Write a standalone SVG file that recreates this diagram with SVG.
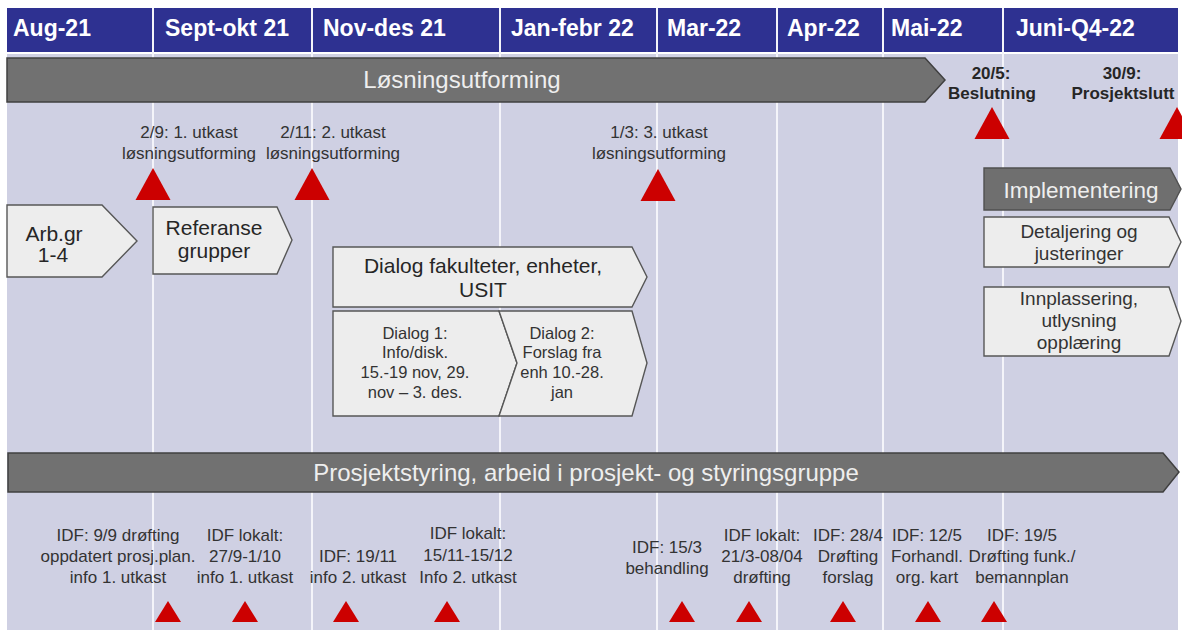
<svg xmlns="http://www.w3.org/2000/svg" width="1182" height="634" viewBox="0 0 1182 634">
<style>
text{font-family:"Liberation Sans",Arial,sans-serif;}
.hd{font-size:23px;font-weight:bold;fill:#ffffff;}
.bar{fill:#717171;stroke:#404040;stroke-width:1.5;}
.bart{font-size:24px;fill:#eeeeee;text-anchor:middle;}
.box{fill:#ededed;stroke:#575757;stroke-width:1.4;}
.bt{font-size:21px;fill:#262626;text-anchor:middle;}
.st{font-size:17px;fill:#333333;text-anchor:middle;}
.bd{font-size:17px;font-weight:bold;fill:#262626;text-anchor:middle;}
.dt{font-size:16.5px;fill:#333333;text-anchor:middle;}
.it{font-size:19px;fill:#333333;text-anchor:middle;}
.tri{fill:#cc0000;}
.sep{stroke:#f4f4fa;stroke-width:2;}
</style>
<defs>
<path id="bigTri" d="M-17.5,32 L0,0 L17.5,32 Z"/>
<path id="smTri" d="M-13,21 L0,0 L13,21 Z"/>
</defs>
<rect x="0" y="0" width="1182" height="634" fill="#ffffff"/>
<rect x="7" y="54" width="1171" height="576" fill="#cfd0e3"/>
<g id="header">
<rect x="7" y="8" width="1171" height="44" fill="#2e3191"/>
<text class="hd" x="13" y="36">Aug-21</text>
<text class="hd" x="165" y="36">Sept-okt 21</text>
<text class="hd" x="323" y="36">Nov-des 21</text>
<text class="hd" x="511" y="36">Jan-febr 22</text>
<text class="hd" x="667" y="36">Mar-22</text>
<text class="hd" x="787" y="36">Apr-22</text>
<text class="hd" x="891" y="36">Mai-22</text>
<text class="hd" x="1016" y="36">Juni-Q4-22</text>
</g>
<g id="separators">
<line class="sep" x1="153" y1="8" x2="153" y2="630"/>
<line class="sep" x1="312" y1="8" x2="312" y2="630"/>
<line class="sep" x1="500" y1="8" x2="500" y2="630"/>
<line class="sep" x1="657" y1="8" x2="657" y2="630"/>
<line class="sep" x1="777" y1="8" x2="777" y2="630"/>
<line class="sep" x1="883" y1="8" x2="883" y2="630"/>
<line class="sep" x1="1003" y1="8" x2="1003" y2="630"/>
</g>
<g id="connectors"></g>
<g id="losningsutforming">
<path class="bar" d="M7,58 H925 L945,80 L925,102 H7 Z"/>
<text class="bart" x="462" y="88">Løsningsutforming</text>
</g>
<g id="ms-2-9">
<text class="st" x="189" y="138">2/9: 1. utkast</text>
<text class="st" x="189" y="159">løsningsutforming</text>
<use href="#bigTri" x="153" y="168" class="tri"/>
</g>
<g id="ms-2-11">
<text class="st" x="333" y="138">2/11: 2. utkast</text>
<text class="st" x="333" y="159">løsningsutforming</text>
<use href="#bigTri" x="312" y="168" class="tri"/>
</g>
<g id="ms-1-3">
<text class="st" x="659" y="138">1/3: 3. utkast</text>
<text class="st" x="659" y="159">løsningsutforming</text>
<use href="#bigTri" x="658" y="169" class="tri"/>
</g>
<g id="ms-20-5">
<text class="bd" x="991" y="79">20/5:</text>
<text class="bd" x="992" y="99">Beslutning</text>
<use href="#bigTri" x="992" y="107" class="tri"/>
</g>
<g id="ms-30-9">
<text class="bd" x="1122" y="79">30/9:</text>
<text class="bd" x="1123" y="99">Prosjektslutt</text>
<use href="#bigTri" x="1177" y="107" class="tri"/>
</g>
<g id="arbgr">
<path class="box" d="M7,205 H102 L137,241 L102,277 H7 Z"/>
<text class="bt" x="54" y="241">Arb.gr</text>
<text class="bt" x="53" y="262">1-4</text>
</g>
<g id="referanse">
<path class="box" d="M153,207 H277 L292,240 L277,274 H153 Z"/>
<text class="bt" x="214" y="235">Referanse</text>
<text class="bt" x="214" y="258">grupper</text>
</g>
<g id="dialog">
<path class="box" d="M333,247 H632 L647,277 L632,307 H333 Z"/>
<text class="bt" x="483" y="273">Dialog fakulteter, enheter,</text>
<text class="bt" x="483" y="297">USIT</text>
</g>
<g id="dialog1">
<path class="box" d="M333,311 H499 L517,363 L499,416 H333 Z"/>
<text class="dt" x="415" y="339">Dialog 1:</text>
<text class="dt" x="415" y="358">Info/disk.</text>
<text class="dt" x="415" y="378">15.-19 nov, 29.</text>
<text class="dt" x="415" y="398">nov – 3. des.</text>
</g>
<g id="dialog2">
<path class="box" d="M499,311 H632 L647,363 L632,416 H499 L517,363 Z"/>
<text class="dt" x="562" y="339">Dialog 2:</text>
<text class="dt" x="562" y="358">Forslag fra</text>
<text class="dt" x="562" y="378">enh 10.-28.</text>
<text class="dt" x="562" y="398">jan</text>
</g>
<g id="implementering">
<path d="M984,168 H1170 L1181,189 L1170,210 H984 Z" fill="#6f6f6f" stroke="#505050" stroke-width="1.4"/>
<text x="1081" y="198" font-size="22.5" fill="#eeeeee" text-anchor="middle">Implementering</text>
</g>
<g id="detaljering">
<path class="box" d="M984,217 H1169 L1181,242 L1169,267 H984 Z"/>
<text class="it" x="1079" y="238">Detaljering og</text>
<text class="it" x="1079" y="260">justeringer</text>
</g>
<g id="innplassering">
<path class="box" d="M984,287 H1169 L1181,321 L1169,356 H984 Z"/>
<text class="it" x="1079" y="305">Innplassering,</text>
<text class="it" x="1079" y="327">utlysning</text>
<text class="it" x="1079" y="349">opplæring</text>
</g>
<g id="prosjektstyring">
<path class="bar" d="M8,453 H1163 L1179,472 L1163,492 H8 Z"/>
<text class="bart" x="586" y="481">Prosjektstyring, arbeid i prosjekt- og styringsgruppe</text>
</g>
<g id="idf-9-9">
<text class="st" x="118" y="541">IDF: 9/9 drøfting</text>
<text class="st" x="118" y="562">oppdatert prosj.plan.</text>
<text class="st" x="118" y="583">info 1. utkast</text>
<use href="#smTri" x="168" y="601" class="tri"/>
</g>
<g id="idf-lokalt-1">
<text class="st" x="245" y="541">IDF lokalt:</text>
<text class="st" x="245" y="562">27/9-1/10</text>
<text class="st" x="245" y="583">info 1. utkast</text>
<use href="#smTri" x="245" y="601" class="tri"/>
</g>
<g id="idf-19-11">
<text class="st" x="358" y="562">IDF: 19/11</text>
<text class="st" x="358" y="583">info 2. utkast</text>
<use href="#smTri" x="346" y="601" class="tri"/>
</g>
<g id="idf-lokalt-2">
<text class="st" x="468" y="539">IDF lokalt:</text>
<text class="st" x="468" y="561">15/11-15/12</text>
<text class="st" x="468" y="583">Info 2. utkast</text>
<use href="#smTri" x="447" y="601" class="tri"/>
</g>
<g id="idf-15-3">
<text class="st" x="667" y="553">IDF: 15/3</text>
<text class="st" x="667" y="574">behandling</text>
<use href="#smTri" x="682" y="601" class="tri"/>
</g>
<g id="idf-lokalt-3">
<text class="st" x="762" y="541">IDF lokalt:</text>
<text class="st" x="762" y="562">21/3-08/04</text>
<text class="st" x="762" y="583">drøfting</text>
<use href="#smTri" x="749" y="601" class="tri"/>
</g>
<g id="idf-28-4">
<text class="st" x="848" y="541">IDF: 28/4</text>
<text class="st" x="848" y="562">Drøfting</text>
<text class="st" x="848" y="583">forslag</text>
<use href="#smTri" x="843" y="601" class="tri"/>
</g>
<g id="idf-12-5">
<text class="st" x="927" y="541">IDF: 12/5</text>
<text class="st" x="927" y="562">Forhandl.</text>
<text class="st" x="927" y="583">org. kart</text>
<use href="#smTri" x="928" y="601" class="tri"/>
</g>
<g id="idf-19-5">
<text class="st" x="1022" y="541">IDF: 19/5</text>
<text class="st" x="1022" y="562">Drøfting funk./</text>
<text class="st" x="1022" y="583">bemannplan</text>
<use href="#smTri" x="994" y="601" class="tri"/>
</g>
</svg>
